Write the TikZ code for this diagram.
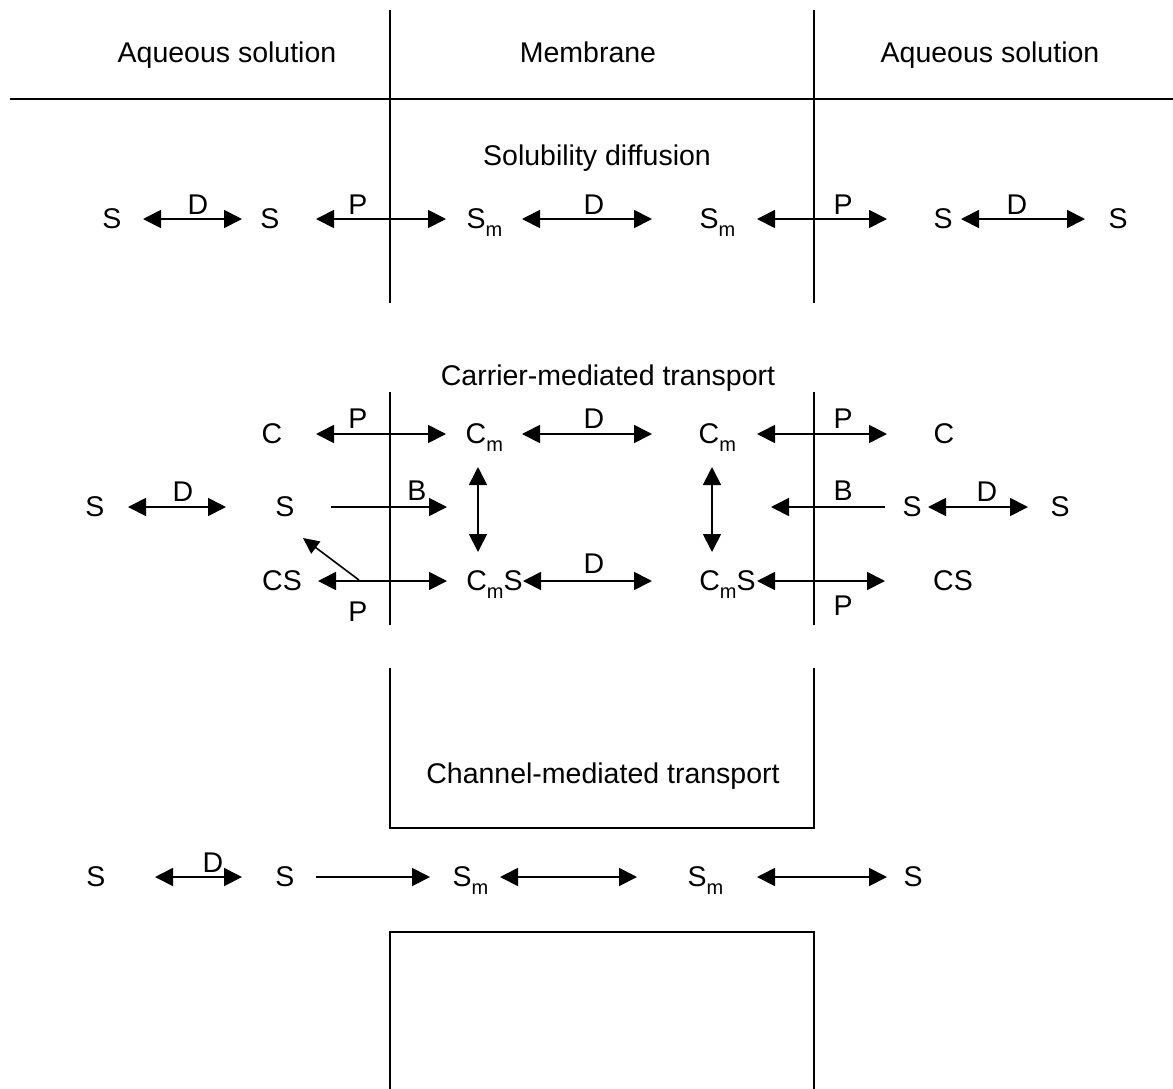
\documentclass[tikz,border=0pt]{standalone}
\usepackage{fontspec}
\setmainfont{Liberation Sans}
\usetikzlibrary{arrows.meta}
\newcommand\lowm{\raisebox{-8pt}[0pt][0pt]{\fontsize{20}{20}\selectfont m}}
\newcommand\sm{S\rlap{\lowm}}
\newcommand\cm{C\rlap{\lowm}}
\tikzset{
  lbl/.style={font=\fontsize{28.5}{34}\selectfont, inner sep=0pt},
  tag/.style={font=\fontsize{28.5}{34}\selectfont, inner sep=0pt, anchor=base},
  dbl/.style={{Triangle[length=18pt,width=18pt]}-{Triangle[length=18pt,width=18pt]}, line width=1.8pt},
  one/.style={-{Triangle[length=18pt,width=18pt]}, line width=1.8pt},
  wall/.style={line width=1.8pt},
}
\newcommand\conn[5][dbl]{\draw[#1, shorten <=#4pt, shorten >=#5pt] (#2.center) -- (#3.center);}
\begin{document}
\begin{tikzpicture}[x=1pt,y=-1pt]
\useasboundingbox (0,0) rectangle (1173,1088);
% header
\draw[wall] (10,99) -- (1173,99);
\draw[wall] (390,10) -- (390,303);
\draw[wall] (814,10) -- (814,303);
\node[tag] (h1) at (227,62) {Aqueous solution};
\node[tag] (h2) at (588,62) {Membrane};
\node[tag] (h3) at (990,62) {Aqueous solution};
% solubility diffusion
\node[tag] (t1) at (597,165) {Solubility diffusion};
\node[lbl] (a1) at (112,219) {S};
\node[lbl] (a2) at (270,219) {S};
\node[lbl] (a3) at (476,219) {\sm};
\node[lbl] (a4) at (709,219) {\sm};
\node[lbl] (a5) at (943,219) {S};
\node[lbl] (a6) at (1118,219) {S};
\conn{a1}{a2}{31}{28}
\conn{a2}{a3}{46}{30}
\conn{a3}{a4}{46}{57}
\conn{a4}{a5}{48}{56}
\conn{a5}{a6}{18}{33}
\node[tag] (la1) at (198,214) {D};
\node[tag] (la2) at (358,214) {P};
\node[tag] (la3) at (594,214) {D};
\node[tag] (la4) at (843,214) {P};
\node[tag] (la5) at (1017,214) {D};
% carrier-mediated
\draw[wall] (390,392) -- (390,625);
\draw[wall] (814,392) -- (814,625);
\node[tag] (t2) at (608,385) {Carrier-mediated transport};
\node[lbl] (c1) at (272,434) {C};
\node[lbl] (c2) at (476,434) {\cm};
\node[lbl] (c3) at (709,434) {\cm};
\node[lbl] (c4) at (944,434) {C};
\conn{c1}{c2}{44}{30}
\conn{c2}{c3}{46}{57}
\conn{c3}{c4}{48}{57}
\node[tag] (lc1) at (358,428) {P};
\node[tag] (lc2) at (594,428) {D};
\node[tag] (lc3) at (843,428) {P};
\node[lbl] (s1) at (95,507) {S};
\node[lbl] (s2) at (285,507) {S};
\node[lbl] (s3) at (912,507) {S};
\node[lbl] (s4) at (1060,507) {S};
\conn{s1}{s2}{33}{59}
\conn{s3}{s4}{16}{32}
\coordinate (bl) at (447,507);
\coordinate (br) at (771,507);
\draw[one, shorten <=46pt] (s2.center) -- (bl);
\draw[one, shorten <=27pt] (s3.center) -- (br);
\node[tag] (ls1) at (183,501) {D};
\node[tag] (ls2) at (417,500) {B};
\node[tag] (ls3) at (843,500) {B};
\node[tag] (ls4) at (987,501) {D};
\coordinate (v1t) at (478,467);
\coordinate (v1b) at (478,552);
\coordinate (v2t) at (712,467);
\coordinate (v2b) at (712,552);
\draw[dbl] (v1t) -- (v1b);
\draw[dbl] (v2t) -- (v2b);
\node[lbl] (d1) at (282,581) {CS};
\node[lbl] (d2) at (494.5,581) {C\lowm S};
\node[lbl] (d3) at (727.5,581) {C\lowm S};
\node[lbl] (d4) at (953,581) {CS};
\conn{d1}{d2}{36}{47.5}
\conn{d2}{d3}{28.5}{75.5}
\conn{d3}{d4}{29.5}{68}
\node[lbl] (ld1) at (358,612) {P};
\node[tag] (ld2) at (594,573) {D};
\node[lbl] (ld3) at (843,606) {P};
\coordinate (dg1) at (359,580);
\coordinate (dg2) at (303,538);
\draw[line width=1.6pt, -{Triangle[length=16pt,width=15pt]}] (dg1) -- (dg2);
% channel-mediated
\draw[wall] (390,668) -- (390,828) -- (814,828) -- (814,668);
\draw[wall] (390,1090) -- (390,932) -- (814,932) -- (814,1090);
\node[tag] (t3) at (603,783) {Channel-mediated transport};
\node[lbl] (e1) at (96,877) {S};
\node[lbl] (e2) at (285,877) {S};
\node[lbl] (e3) at (462,877) {\sm};
\node[lbl] (e4) at (697,877) {\sm};
\node[lbl] (e5) at (913,877) {S};
\conn{e1}{e2}{59}{43}
\conn[one]{e2}{e3}{31}{32}
\conn{e3}{e4}{38}{60}
\conn{e4}{e5}{60}{26}
\node[tag] (le1) at (213,872) {D};
\end{tikzpicture}
\end{document}
